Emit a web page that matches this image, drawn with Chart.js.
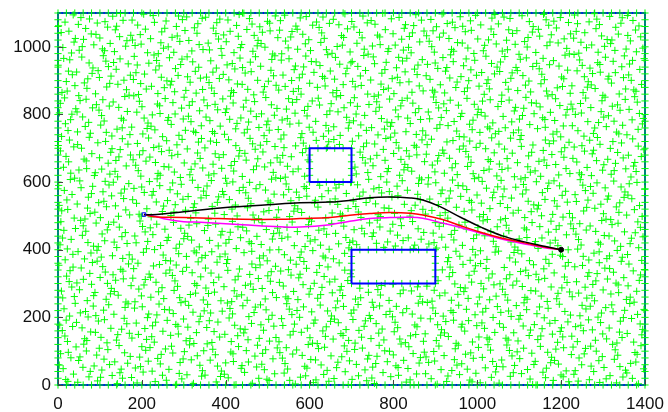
<!DOCTYPE html>
<html>
<head>
<meta charset="utf-8">
<script src="https://cdn.jsdelivr.net/npm/chart.js@4/dist/chart.umd.min.js"></script>
<style>
  html, body { margin: 0; padding: 0; background: #fff; }
  #wrap { width: 668px; height: 412px; }
</style>
</head>
<body>
<div id="wrap"><canvas id="c" width="668" height="412"></canvas></div>
<script>
// Workspace bounds
const X_RANGE = [0, 1400];
const Y_RANGE = [0, 1100];
const X_TICKS = [0, 200, 400, 600, 800, 1000, 1200, 1400];
const Y_TICKS = [0, 200, 400, 600, 800, 1000];

// Rectangular obstacles: [xmin, xmax, ymin, ymax]
const obstacleA = [600, 700, 600, 700];
const obstacleB = [700, 900, 300, 400];

// Start and goal
const startPoint = [205, 504];
const goalPoint = [1200, 400];

// Planned paths
const pathBlackX = [205, 235, 300, 400, 500, 577, 649, 696, 744, 792, 840, 870, 910, 960, 1010, 1060, 1110, 1160, 1200];
const pathBlackY = [504, 504, 512, 525, 533, 539, 541, 546, 554, 556, 553, 547, 528, 496, 466, 441, 424, 410, 400];

const pathRedX = [205, 225, 260, 340, 440, 530, 577, 649, 696, 744, 792, 840, 870, 915, 960, 1010, 1060, 1110, 1160, 1200];
const pathRedY = [504, 498, 496, 494, 490, 490, 492, 495, 502, 507, 510, 508, 503, 490, 471, 451, 434, 421, 408, 400];

const pathMagentaX = [205, 230, 260, 300, 340, 440, 530, 577, 649, 696, 744, 792, 840, 870, 920, 960, 1010, 1060, 1110, 1160, 1200];
const pathMagentaY = [504, 499, 490, 483, 481, 474, 468, 467, 474, 484, 492, 495, 496, 493, 478, 466, 448, 431, 418, 406, 400];

// Sample nodes: interior low-discrepancy set plus nodes along every edge
const SAMPLE_COUNT = 2550;
const EDGE_STEP = 20;

function halton(i, b) {
  let f = 1, r = 0;
  while (i > 0) { f /= b; r += f * (i % b); i = Math.floor(i / b); }
  return r;
}
function inside(o, x, y) { return x > o[0] && x < o[1] && y > o[2] && y < o[3]; }
function edgeNodes(xa, xb, ya, yb, out) {
  for (let x = xa; x <= xb; x += EDGE_STEP) { out.push({x, y: ya}); out.push({x, y: yb}); }
  for (let y = ya + EDGE_STEP; y < yb; y += EDGE_STEP) { out.push({x: xa, y}); out.push({x: xb, y}); }
}
const nodes = [];
for (let i = 1; nodes.length < SAMPLE_COUNT; i++) {
  const x = X_RANGE[0] + halton(i + 20, 2) * (X_RANGE[1] - X_RANGE[0]);
  const y = Y_RANGE[0] + halton(i + 20, 3) * (Y_RANGE[1] - Y_RANGE[0]);
  if (inside(obstacleA, x, y) || inside(obstacleB, x, y)) continue;
  nodes.push({x, y});
}
edgeNodes(X_RANGE[0], X_RANGE[1], Y_RANGE[0], Y_RANGE[1], nodes);
edgeNodes(obstacleA[0], obstacleA[1], obstacleA[2], obstacleA[3], nodes);
edgeNodes(obstacleB[0], obstacleB[1], obstacleB[2], obstacleB[3], nodes);

const toXY = (xs, ys) => xs.map((x, i) => ({x, y: ys[i]}));
const rectPoly = o => [
  {x: o[0], y: o[2]}, {x: o[1], y: o[2]}, {x: o[1], y: o[3]}, {x: o[0], y: o[3]}, {x: o[0], y: o[2]}
];

// Frame around the plot area and short inward ticks on left/bottom
const framePlugin = {
  id: 'frame',
  beforeDatasetsDraw(chart) {
    const {ctx, chartArea: a} = chart;
    ctx.save();
    ctx.strokeStyle = '#0000ff';
    ctx.lineWidth = 2;
    ctx.strokeRect(a.left, a.top, a.right - a.left, a.bottom - a.top);
    ctx.restore();
  },
  afterDatasetsDraw(chart) {
    const {ctx, chartArea: a, scales} = chart;
    ctx.save();
    ctx.strokeStyle = '#444';
    ctx.lineWidth = 1;
    ctx.beginPath();
    scales.x.ticks.forEach(t => {
      const px = Math.round(scales.x.getPixelForValue(t.value)) + 0.5;
      ctx.moveTo(px, a.bottom); ctx.lineTo(px, a.bottom - 5);
    });
    scales.y.ticks.forEach(t => {
      const py = Math.round(scales.y.getPixelForValue(t.value)) + 0.5;
      ctx.moveTo(a.left, py); ctx.lineTo(a.left + 5, py);
    });
    ctx.stroke();
    ctx.restore();
  }
};

const pathStyle = c => ({
  type: 'line', borderColor: c, borderWidth: 1.5, pointRadius: 0, fill: false, tension: 0.4
});
const obstacleFill = o => ({
  type: 'line', data: rectPoly(o), borderWidth: 0, borderColor: 'rgba(0,0,0,0)',
  backgroundColor: '#ffffff', fill: 'shape', pointRadius: 0, tension: 0, order: 4
});
const obstacleEdge = o => ({
  type: 'line', data: rectPoly(o), borderColor: '#0000ff', borderWidth: 2,
  fill: false, pointRadius: 0, tension: 0, order: 2
});

const tickFont = { family: 'Liberation Sans, Arial, sans-serif', size: 17 };

new Chart(document.getElementById('c'), {
  type: 'scatter',
  data: {
    datasets: [
      { data: [{x: goalPoint[0], y: goalPoint[1]}], pointStyle: 'circle', pointRadius: 2.5,
        pointBackgroundColor: '#000', pointBorderColor: '#000', order: 0 },
      { data: [{x: startPoint[0], y: startPoint[1]}], pointStyle: 'rect', pointRadius: 2.5,
        pointBackgroundColor: 'rgba(0,0,0,0)', pointBorderColor: '#0000ff', pointBorderWidth: 1, order: 0 },
      Object.assign(pathStyle('#000000'), { data: toXY(pathBlackX, pathBlackY), order: 1 }),
      Object.assign(pathStyle('#ff0000'), { data: toXY(pathRedX, pathRedY), order: 1 }),
      Object.assign(pathStyle('#ff00ff'), { data: toXY(pathMagentaX, pathMagentaY), order: 1 }),
      obstacleEdge(obstacleA),
      obstacleEdge(obstacleB),
      { data: nodes, pointStyle: 'cross', pointRadius: 3.6,
        borderColor: '#00ff00', pointBorderColor: '#00ff00', pointBackgroundColor: '#00ff00',
        pointBorderWidth: 1, clip: false, order: 3 },
      obstacleFill(obstacleA),
      obstacleFill(obstacleB)
    ]
  },
  options: {
    responsive: false,
    animation: false,
    events: [],
    layout: { padding: { top: 13, right: 23, left: 0, bottom: 0 } },
    plugins: { legend: { display: false }, tooltip: { enabled: false } },
    scales: {
      x: {
        type: 'linear', min: X_RANGE[0], max: X_RANGE[1],
        afterFit: s => { s.height = 27; s.paddingLeft = 0; s.paddingRight = 0; },
        afterBuildTicks: s => { s.ticks = X_TICKS.map(v => ({value: v})); },
        grid: { display: false, drawTicks: false },
        border: { display: false },
        ticks: { color: '#111', padding: 9, maxRotation: 0, autoSkip: false, font: tickFont,
          callback: v => String(v) }
      },
      y: {
        type: 'linear', min: Y_RANGE[0], max: Y_RANGE[1],
        afterFit: s => { s.width = 58; s.paddingTop = 0; s.paddingBottom = 0; },
        afterBuildTicks: s => { s.ticks = Y_TICKS.map(v => ({value: v})); },
        grid: { display: false, drawTicks: false },
        border: { display: false },
        ticks: { color: '#111', padding: 7, autoSkip: false, font: tickFont,
          callback: v => String(v) }
      }
    }
  },
  plugins: [framePlugin]
});
</script>
</body>
</html>
